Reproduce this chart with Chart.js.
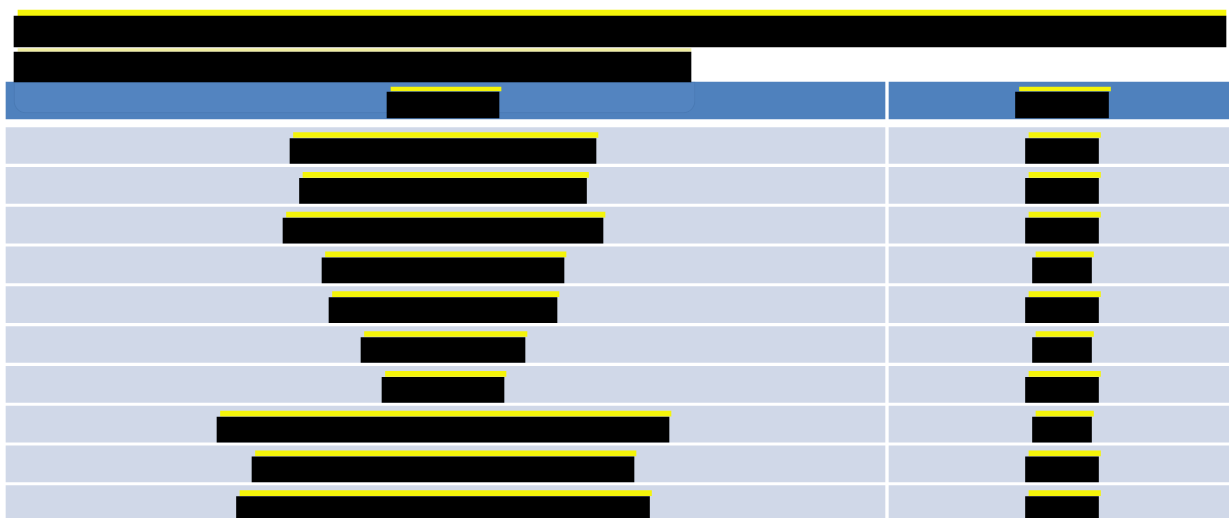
<!DOCTYPE html>
<html>
<head>
<meta charset="utf-8">
<title>Redacted table</title>
<script src="https://cdn.jsdelivr.net/npm/chart.js@4/dist/chart.umd.min.js"></script>
<style>
  html, body { margin: 0; padding: 0; background: #ffffff; overflow: hidden; }
  #c { display: block; }
</style>
</head>
<body>
<canvas id="c" width="1229" height="518" aria-label="Table with redacted title, header and rows"></canvas>
<script>
// ---- DATA (widths of the redacted text blocks, in pixels of the original) ----
const rowCategories = ['Row 1', 'Row 2', 'Row 3', 'Row 4', 'Row 5', 'Row 6', 'Row 7', 'Row 8', 'Row 9', 'Row 10'];
const titleLineWidths = [1212, 677];
const headerWidths = [112, 93];
const column1Widths = [306, 287, 320, 242, 228, 164, 122, 452, 382, 413];
const column2Widths = [73, 73, 73, 59, 73, 59, 73, 59, 73, 73];

// ---- LAYOUT ----
const W = 1229, H = 518;
const col1 = [6, 885], col2 = [889, 1229];
const col1Center = 443, col2Center = 1062;
const titleLeft = 14;
const headerTop = 82, headerBottom = 119;
const firstRowTop = 127.5, rowPitch = 39.8, rowHeight = 36;
const rowTop = i => firstRowTop + rowPitch * i;

const BLUE = '#4f81bd', BAND = '#d0d8e8', YELLOW = '#f4f40a', BLACK = '#000000';

const centered = (c, w) => [c - w / 2, c + w / 2];

// row backgrounds
const rowBg = [];
rowCategories.forEach((_, i) => {
  rowBg.push({ x: col1, y: rowTop(i) + rowHeight / 2 });
  rowBg.push({ x: col2, y: rowTop(i) + rowHeight / 2 });
});
// header background
const headBg = [
  { x: col1, y: (headerTop + headerBottom) / 2 },
  { x: col2, y: (headerTop + headerBottom) / 2 }
];
// black blocks in rows
const rowBlack = [], rowYellow = [];
rowCategories.forEach((_, i) => {
  const t = rowTop(i);
  [[col1Center, column1Widths[i]], [col2Center, column2Widths[i]]].forEach(([c, w]) => {
    const [a, b] = centered(c, w);
    rowBlack.push({ x: [a, b], y: t + 23.5 });
    rowYellow.push({ x: [a + 3.5, b + 2], y: t + 7.5 });
  });
});
// header blocks
const headBlack = [], headYellow = [];
[[col1Center, headerWidths[0]], [col2Center, headerWidths[1]]].forEach(([c, w]) => {
  const [a, b] = centered(c, w);
  headBlack.push({ x: [a, b], y: 105 });
  headYellow.push({ x: [a + 4, b + 2], y: 89 });
});
// title blocks
const title1 = [{ x: [titleLeft, titleLeft + titleLineWidths[0]], y: 31.5 }];
const title1Y = [{ x: [titleLeft + 4, titleLeft + titleLineWidths[0]], y: 13 }];
const title2 = [{ x: [titleLeft, titleLeft + titleLineWidths[1]], y: 67 }];
const title2Y = [{ x: [titleLeft + 4, titleLeft + titleLineWidths[1]], y: 50 }];
const headOverlay = [{ x: [titleLeft, titleLeft + titleLineWidths[1] + 4], y: 97.5 }];

function ds(label, data, color, thickness, order, extra) {
  return Object.assign({
    label, data, backgroundColor: color, barThickness: thickness, order,
    stack: 'one', borderWidth: 0, borderSkipped: false
  }, extra || {});
}

new Chart(document.getElementById('c'), {
  type: 'bar',
  data: {
    datasets: [
      ds('rows', rowBg, BAND, rowHeight, 10),
      ds('header', headBg, BLUE, headerBottom - headerTop, 10),
      ds('headerOverlay', headOverlay, '#5384c0', 31, 9, {
        borderWidth: 1, borderColor: '#4a7ab4',
        borderRadius: { topLeft: 0, topRight: 0, bottomLeft: 12, bottomRight: 12 }
      }),
      ds('rowYellow', rowYellow, YELLOW, 5, 4),
      ds('headYellow', headYellow, YELLOW, 4, 4),
      ds('title1Yellow', title1Y, YELLOW, 6, 4),
      ds('title2Yellow', title2Y, '#efeca0', 3, 4),
      ds('rowText', rowBlack, BLACK, 25, 1),
      ds('headText', headBlack, BLACK, 26, 1),
      ds('title1', title1, BLACK, 31, 1),
      ds('title2', title2, BLACK, 30, 1)
    ]
  },
  options: {
    indexAxis: 'y',
    responsive: false,
    animation: false,
    devicePixelRatio: 1,
    layout: { padding: 0 },
    scales: {
      x: { type: 'linear', min: 0, max: W, display: false, stacked: false, offset: false },
      y: { type: 'linear', min: 0, max: H, reverse: true, display: false, offset: false, grid: { offset: false } }
    },
    plugins: { legend: { display: false }, tooltip: { enabled: false } },
    events: []
  }
});
</script>
</body>
</html>
